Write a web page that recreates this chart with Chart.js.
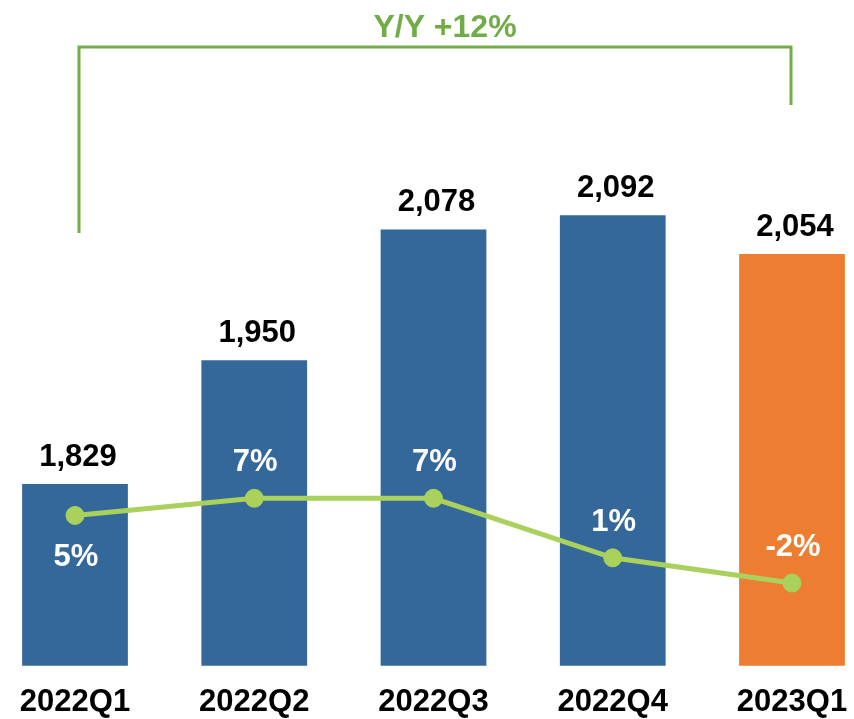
<!DOCTYPE html>
<html>
<head>
<meta charset="utf-8">
<script src="https://cdn.jsdelivr.net/npm/chart.js@4/dist/chart.umd.min.js"></script>
<style>
  html, body { margin: 0; padding: 0; background: #fff; overflow: hidden; }
  canvas { display: block; }
</style>
</head>
<body>
<canvas id="grafico" width="854" height="719"></canvas>
<script>
// dados
const quarters = ['2022Q1', '2022Q2', '2022Q3', '2022Q4', '2023Q1'];
const revenue = [1829, 1950, 2078, 2092, 2054];
const qoqGrowth = [4.9, 6.6, 6.6, 0.7, -1.8];
const yoyText = 'Y/Y +12%';

const BLUE = '#34679A';
const ORANGE = '#ED7D31';
const LINE_GREEN = '#A9D15C';
const DARK_GREEN = '#70AD47';

// rótulos e colchete Y/Y
const rotulos = {
  id: 'rotulos',
  afterDatasetsDraw(chart) {
    const ctx = chart.ctx;
    const bars = chart.getDatasetMeta(0).data;
    const pts = chart.getDatasetMeta(1).data;
    ctx.save();
    ctx.textAlign = 'center';
    ctx.textBaseline = 'alphabetic';
    ctx.font = 'bold 31px "Liberation Sans", Arial, sans-serif';

    ctx.fillStyle = '#000';
    bars.forEach((b, i) => {
      ctx.fillText(revenue[i].toLocaleString('en-US'), b.x + 3, b.y - 18);
    });

    ctx.fillStyle = '#fff';
    pts.forEach((p, i) => {
      const txt = Math.round(qoqGrowth[i]) + '%';
      const y = i === 0 ? p.y + 51 : p.y - 27;
      ctx.fillText(txt, p.x + 1, y);
    });

    // colchete
    const x0 = bars[0].x + 4;
    const x1 = bars[bars.length - 1].x - 1;
    ctx.strokeStyle = DARK_GREEN;
    ctx.lineWidth = 3;
    ctx.beginPath();
    ctx.moveTo(x0, 233);
    ctx.lineTo(x0, 47);
    ctx.lineTo(x1, 47);
    ctx.lineTo(x1, 105);
    ctx.stroke();

    ctx.fillStyle = DARK_GREEN;
    ctx.font = 'bold 32px "Liberation Sans", Arial, sans-serif';
    ctx.fillText(yoyText, 445, 37);
    ctx.restore();
  }
};

new Chart(document.getElementById('grafico'), {
  type: 'bar',
  data: {
    labels: quarters,
    datasets: [{
      type: 'bar',
      label: 'Receita',
      data: revenue,
      yAxisID: 'y',
      backgroundColor: revenue.map((v, i) => i === revenue.length - 1 ? ORANGE : BLUE),
      categoryPercentage: 1,
      barPercentage: 0.59,
      clip: { left: false, right: false, top: false, bottom: 0 },
      order: 2
    }, {
      type: 'line',
      label: 'Q/Q',
      data: qoqGrowth,
      yAxisID: 'y2',
      borderColor: LINE_GREEN,
      backgroundColor: LINE_GREEN,
      borderWidth: 5,
      pointRadius: 9,
      pointBorderWidth: 1,
      pointBackgroundColor: LINE_GREEN,
      pointBorderColor: LINE_GREEN,
      tension: 0,
      clip: false,
      order: 1
    }]
  },
  options: {
    responsive: false,
    animation: false,
    layout: { padding: { left: 75, right: 62, top: 20, bottom: -20 } },
    plugins: {
      legend: { display: false },
      tooltip: { enabled: false }
    },
    scales: {
      x: {
        offset: false,
        grid: { display: false, drawTicks: false },
        border: { display: false },
        ticks: {
          color: '#000',
          padding: 18,
          font: { family: '"Liberation Sans", Arial, sans-serif', size: 31, weight: 'bold' },
          maxRotation: 0,
          autoSkip: false
        },
        afterFit(scale) {
          scale.paddingLeft = 0;
          scale.paddingRight = 0;
        }
      },
      y: {
        display: false,
        min: 1651,
        max: 2283
      },
      y2: {
        display: false,
        position: 'right',
        min: -10,
        max: 54
      }
    }
  },
  plugins: [rotulos]
});
</script>
</body>
</html>
